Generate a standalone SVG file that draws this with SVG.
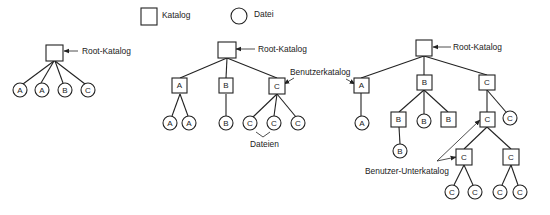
<svg xmlns="http://www.w3.org/2000/svg" width="550" height="215" viewBox="0 0 550 215">
<style>
.k{fill:#fff;stroke:#222;stroke-width:1.1}
.t{font-family:"Liberation Sans",Arial,sans-serif;font-size:8.4px;fill:#222}
.n{font-family:"Liberation Sans",Arial,sans-serif;font-size:8px;fill:#222;text-anchor:middle;dominant-baseline:central}
.e{stroke:#222;stroke-width:1.1;fill:none}
.p{stroke:#222;stroke-width:0.8;fill:none;marker-end:url(#ah)}
</style>
<defs>
<marker id="ah" viewBox="0 0 10 10" refX="9" refY="5" markerWidth="6" markerHeight="6" orient="auto" markerUnits="userSpaceOnUse">
<path d="M0,1 L10,5 L0,9 z" fill="#222"/>
</marker>
</defs>
<rect width="550" height="215" fill="#fff"/>
<g id="legend">
<rect class="k" x="141" y="8" width="16" height="17"/>
<text class="t" x="162" y="18">Katalog</text>
<circle class="k" cx="239" cy="16" r="8"/>
<text class="t" x="254" y="17">Datei</text>
</g>
<g id="connectors">
<line class="e" x1="54" y1="61" x2="23" y2="84"/>
<line class="e" x1="54" y1="61" x2="41" y2="83"/>
<line class="e" x1="55" y1="61" x2="63" y2="83"/>
<line class="e" x1="55" y1="61" x2="85" y2="84"/>
<line class="e" x1="227" y1="58" x2="180" y2="78"/>
<line class="e" x1="227" y1="58" x2="226" y2="78"/>
<line class="e" x1="227" y1="58" x2="277" y2="78"/>
<line class="e" x1="180" y1="94" x2="172" y2="116"/>
<line class="e" x1="180" y1="94" x2="188" y2="116"/>
<line class="e" x1="226" y1="94" x2="226" y2="116"/>
<line class="e" x1="277" y1="94" x2="253" y2="117"/>
<line class="e" x1="277" y1="94" x2="274" y2="116"/>
<line class="e" x1="277" y1="94" x2="296" y2="117"/>
<line class="e" x1="424" y1="56" x2="361" y2="78"/>
<line class="e" x1="424" y1="56" x2="424" y2="75"/>
<line class="e" x1="424" y1="56" x2="487" y2="75"/>
<line class="e" x1="361" y1="93" x2="361" y2="116"/>
<line class="e" x1="424" y1="90" x2="399" y2="112"/>
<line class="e" x1="424" y1="90" x2="424" y2="114"/>
<line class="e" x1="424" y1="90" x2="448" y2="112"/>
<line class="e" x1="399" y1="127" x2="400" y2="144"/>
<line class="e" x1="487" y1="90" x2="487" y2="112"/>
<line class="e" x1="487" y1="90" x2="506" y2="112"/>
<line class="e" x1="487" y1="127" x2="464" y2="149"/>
<line class="e" x1="487" y1="127" x2="511" y2="149"/>
<line class="e" x1="464" y1="165" x2="454" y2="185"/>
<line class="e" x1="464" y1="165" x2="473" y2="185"/>
<line class="e" x1="511" y1="165" x2="502" y2="185"/>
<line class="e" x1="511" y1="165" x2="518" y2="185"/>
<line class="p" x1="78" y1="51" x2="64" y2="51"/>
<line class="p" x1="255" y1="49" x2="236" y2="49"/>
<line class="p" x1="451" y1="47" x2="433" y2="47"/>
<line class="p" x1="294" y1="78" x2="284" y2="84"/>
<line class="p" x1="346" y1="79" x2="355" y2="84"/>
<polyline class="e" points="256,132 263,137 270,132" style="stroke-width:0.8"/>
<line class="p" x1="437" y1="161" x2="480" y2="120"/>
<line class="p" x1="437" y1="161" x2="456" y2="157"/>
</g>
<g id="tree1">
<g id="t1-root"><rect class="k" x="46" y="45" width="17" height="16"/></g>
<text class="t" x="82" y="54">Root-Katalog</text>
<g id="t1-a1"><circle class="k" cx="20" cy="90" r="7"/><text class="n" x="20" y="90">A</text></g>
<g id="t1-a2"><circle class="k" cx="42" cy="90" r="7"/><text class="n" x="42" y="90">A</text></g>
<g id="t1-b"><circle class="k" cx="65" cy="90" r="7"/><text class="n" x="65" y="90">B</text></g>
<g id="t1-c"><circle class="k" cx="88" cy="90" r="7"/><text class="n" x="88" y="90">C</text></g>
</g>
<g id="tree2">
<g id="t2-root"><rect class="k" x="218" y="42" width="18" height="16"/></g>
<text class="t" x="258" y="52">Root-Katalog</text>
<g id="t2-A"><rect class="k" x="172" y="78" width="15" height="15"/><text class="n" x="179.5" y="85.5">A</text></g>
<g id="t2-B"><rect class="k" x="219" y="78" width="14" height="15"/><text class="n" x="226" y="85.5">B</text></g>
<g id="t2-C"><rect class="k" x="269" y="78" width="16" height="16"/><text class="n" x="277" y="86">C</text></g>
<text class="t" x="290" y="75">Benutzerkatalog</text>
<g id="t2-a1"><circle class="k" cx="170" cy="123" r="7"/><text class="n" x="170" y="123">A</text></g>
<g id="t2-a2"><circle class="k" cx="189" cy="123" r="7"/><text class="n" x="189" y="123">A</text></g>
<g id="t2-b"><circle class="k" cx="226" cy="123" r="7"/><text class="n" x="226" y="123">B</text></g>
<g id="t2-c1"><circle class="k" cx="250" cy="123" r="7"/><text class="n" x="250" y="123">C</text></g>
<g id="t2-c2"><circle class="k" cx="274" cy="123" r="7"/><text class="n" x="274" y="123">C</text></g>
<g id="t2-c3"><circle class="k" cx="298" cy="123" r="7"/><text class="n" x="298" y="123">C</text></g>
<text class="t" x="250" y="147">Dateien</text>
</g>
<g id="tree3">
<g id="t3-root"><rect class="k" x="416" y="40" width="16" height="16"/></g>
<text class="t" x="453" y="50">Root-Katalog</text>
<g id="t3-A"><rect class="k" x="354" y="78" width="15" height="15"/><text class="n" x="361.5" y="85.5">A</text></g>
<g id="t3-B"><rect class="k" x="417" y="75" width="15" height="15"/><text class="n" x="424.5" y="82.5">B</text></g>
<g id="t3-C"><rect class="k" x="479" y="75" width="16" height="15"/><text class="n" x="487" y="82.5">C</text></g>
<g id="t3-a"><circle class="k" cx="362" cy="123" r="7"/><text class="n" x="362" y="123">A</text></g>
<g id="t3-Bsub"><rect class="k" x="391" y="112" width="15" height="15"/><text class="n" x="398.5" y="119.5">B</text></g>
<g id="t3-b1"><circle class="k" cx="424" cy="121" r="7"/><text class="n" x="424" y="121">B</text></g>
<g id="t3-Bsub2"><rect class="k" x="441" y="112" width="15" height="15"/><text class="n" x="448.5" y="119.5">B</text></g>
<g id="t3-b2"><circle class="k" cx="400" cy="151" r="7"/><text class="n" x="400" y="151">B</text></g>
<g id="t3-Csub"><rect class="k" x="480" y="112" width="15" height="15"/><text class="n" x="487.5" y="119.5">C</text></g>
<g id="t3-c1"><circle class="k" cx="510" cy="118" r="7"/><text class="n" x="510" y="118">C</text></g>
<g id="t3-Cl"><rect class="k" x="456" y="149" width="16" height="16"/><text class="n" x="464" y="157">C</text></g>
<g id="t3-Cr"><rect class="k" x="503" y="149" width="16" height="16"/><text class="n" x="511" y="157">C</text></g>
<g id="t3-c2"><circle class="k" cx="452" cy="192" r="7"/><text class="n" x="452" y="192">C</text></g>
<g id="t3-c3"><circle class="k" cx="475" cy="192" r="7"/><text class="n" x="475" y="192">C</text></g>
<g id="t3-c4"><circle class="k" cx="500" cy="192" r="7"/><text class="n" x="500" y="192">C</text></g>
<g id="t3-c5"><circle class="k" cx="520" cy="192" r="7"/><text class="n" x="520" y="192">C</text></g>
<text class="t" x="365" y="174">Benutzer-Unterkatalog</text>
</g>
</svg>
